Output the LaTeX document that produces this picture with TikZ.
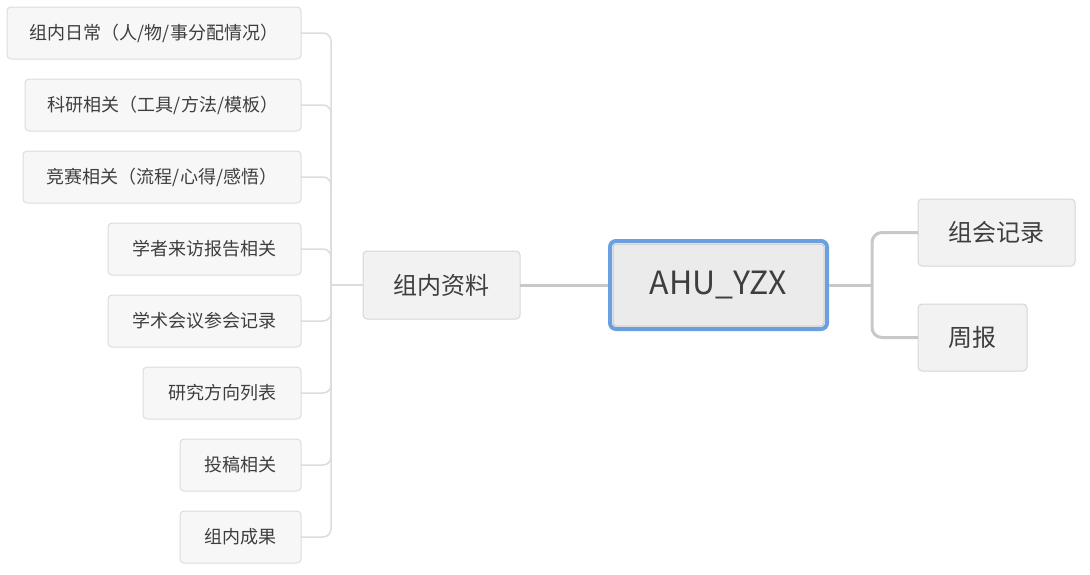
\documentclass[tikz,border=0pt]{standalone}
\usepackage{fontspec}
\setmainfont{Noto Sans CJK SC}
\definecolor{leafbg}{HTML}{F7F7F7}
\definecolor{leafbd}{HTML}{DCDCDC}
\definecolor{midbg}{HTML}{F2F2F2}
\definecolor{midbd}{HTML}{D6D6D6}
\definecolor{ctrbg}{HTML}{EBEBEB}
\definecolor{ctrbd}{HTML}{C8C8C8}
\definecolor{blueb}{HTML}{6A9FE0}
\definecolor{txt}{HTML}{3E3E3E}
\definecolor{lnL}{HTML}{DCDCDC}
\definecolor{lnC}{HTML}{C8C8C8}
\tikzset{
  leaf/.style={draw=leafbd, fill=leafbg, rounded corners=4pt, line width=1pt,
    minimum height=52pt, anchor=east, inner sep=0pt, outer sep=0pt, text=txt,
    font=\fontsize{18}{18}\selectfont},
  mid/.style={draw=midbd, fill=midbg, rounded corners=4pt, line width=1pt,
    minimum height=68pt, minimum width=157pt, inner sep=0pt, outer sep=0pt, text=txt,
    font=\fontsize{24}{24}\selectfont},
  rnode/.style={draw=midbd, fill=midbg, rounded corners=4pt, line width=1pt,
    minimum height=67pt, anchor=west, inner sep=0pt, outer sep=0pt, text=txt,
    font=\fontsize{24}{24}\selectfont},
  ctr/.style={draw=ctrbd, fill=ctrbg, rounded corners=3pt, line width=1pt,
    minimum height=82pt, minimum width=211pt, inner sep=0pt, outer sep=0pt, text=txt,
    font=\fontsize{32}{32}\selectfont},
  linkL/.style={draw=lnL, line width=1.5pt, rounded corners=8pt},
  linkC/.style={draw=lnC, line width=3pt, rounded corners=10pt},
}
\begin{document}
\begin{tikzpicture}[x=1pt,y=-1pt]
\useasboundingbox (0,0) rectangle (1090,574);
% left leaves
\node[leaf, minimum width=294pt] (l1) at (301,33) {组内日常（人/物/事分配情况）};
\node[leaf, minimum width=276pt] (l2) at (301,105) {科研相关（工具/方法/模板）};
\node[leaf, minimum width=278pt] (l3) at (301,177) {竞赛相关（流程/心得/感悟）};
\node[leaf, minimum width=193pt] (l4) at (301,249) {学者来访报告相关};
\node[leaf, minimum width=193pt] (l5) at (301,321) {学术会议参会记录};
\node[leaf, minimum width=158pt] (l6) at (301,393) {研究方向列表};
\node[leaf, minimum width=121pt] (l7) at (301,465) {投稿相关};
\node[leaf, minimum width=121pt] (l8) at (301,537) {组内成果};
% middle
\node[mid] (m) at (441.5,285) {组内资料};
% center
\node[ctr] (c) at (718.5,285) {AHU\_YZX};
\draw[blueb, line width=4pt, rounded corners=6pt]
  ([xshift=-3pt,yshift=3pt]c.north west) rectangle ([xshift=3pt,yshift=-3pt]c.south east);
% right
\node[rnode, minimum width=157pt] (r1) at (918,232.5) {组会记录};
\node[rnode, minimum width=109pt] (r2) at (918,337.5) {周报};
% trunk coordinates
\coordinate (tl) at (331,285);
\coordinate (tr) at (872,285);
% left connectors
\foreach \n in {l1,l2,l3,l4,l5,l6,l7,l8}{
  \path[linkL] (\n.east) -- (\n.east -| tl) -- (tl);
}
\path[linkL] (m.west) -- (tl);
% center connectors
\path[linkC] (m.east) -- ([xshift=-5pt]c.west);
\path[linkC] ([xshift=5pt]c.east) -- (tr);
\path[linkC] (r1.west) -- (r1.west -| tr) -- (tr);
\path[linkC] (r2.west) -- (r2.west -| tr) -- (tr);
\end{tikzpicture}
\end{document}
